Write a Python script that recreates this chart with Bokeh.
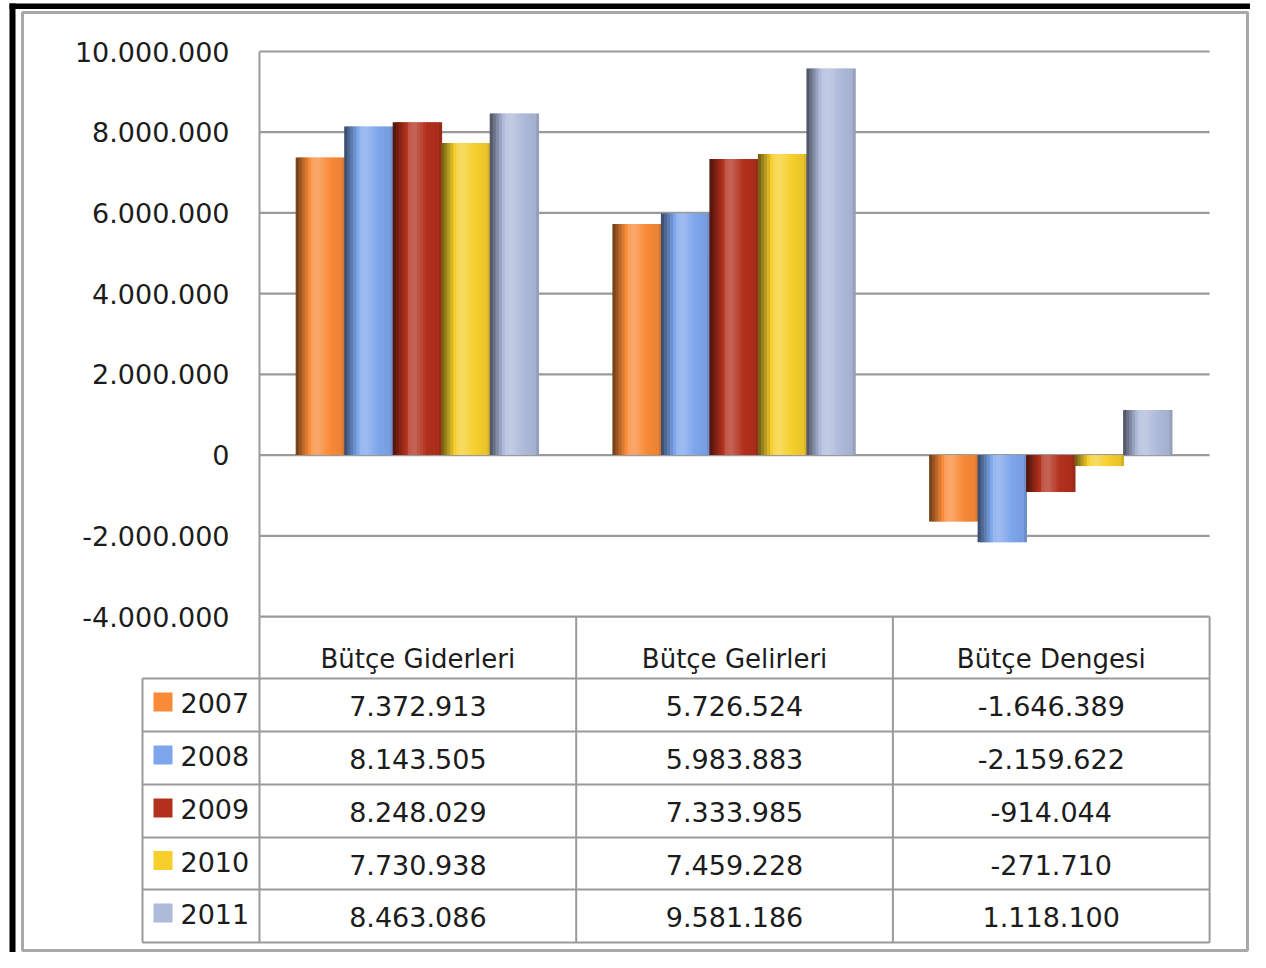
from bokeh.plotting import figure
from bokeh.models import Range1d, FixedTicker
from bokeh.core.properties import value
from bokeh.embed import file_html
from bokeh.resources import INLINE

# ---------------- data ----------------
categories = ["Bütçe Giderleri", "Bütçe Gelirleri", "Bütçe Dengesi"]
years = ["2007", "2008", "2009", "2010", "2011"]
v2007 = [7372913, 5726524, -1646389]
v2008 = [8143505, 5983883, -2159622]
v2009 = [8248029, 7333985, -914044]
v2010 = [7730938, 7459228, -271710]
v2011 = [8463086, 9581186, 1118100]
y_ticks = [-4000000, -2000000, 0, 2000000, 4000000, 6000000, 8000000, 10000000]
y_tick_labels = ["-4.000.000", "-2.000.000", "0", "2.000.000", "4.000.000",
                 "6.000.000", "8.000.000", "10.000.000"]

series = [v2007, v2008, v2009, v2010, v2011]
colors = ["#F98A38", "#7EA6EC", "#B3301C", "#F6CF2C", "#AEBADA"]

# ---------------- layout constants (screen px) ----------------
W, H = 1250, 952
FX, FY = 0, 0
X0, CW = 259.0, 316.7          # px of first category start, px per category
Y0, PPU = 454.6, 40.36e-6      # px of zero, px per unit


def xd(px):
    return (px - X0) / CW


def yd(py):
    return (Y0 - py) / PPU


def hex2rgb(h):
    h = h.lstrip("#")
    return [int(h[i:i + 2], 16) for i in (0, 2, 4)]


def shade(h, f):
    r = hex2rgb(h)
    if f <= 1:
        out = [int(c * f) for c in r]
    else:
        out = [int(c + (255 - c) * min(1.0, (f - 1) * 2.2)) for c in r]
    return "#%02x%02x%02x" % tuple(max(0, min(255, c)) for c in out)


def profile(t):
    pts = [(0.0, 0.42), (0.12, 0.68), (0.32, 1.08), (0.45, 1.12), (0.7, 1.0), (0.93, 0.95), (1.0, 0.8)]
    for (a, fa), (b, fb) in zip(pts[:-1], pts[1:]):
        if a <= t <= b:
            return fa + (fb - fa) * (t - a) / (b - a)
    return 1.0


p = figure(width=W, height=H,
           x_range=Range1d(xd(FX), xd(FX + W)),
           y_range=Range1d(yd(FY + H), yd(FY)),
           x_axis_location=None, y_axis_location="left",
           toolbar_location=None, output_backend="svg",
           min_border=0, outline_line_color=None,
           background_fill_color="white", border_fill_color="white")
p.grid.visible = False

FONT = "DejaVu Sans"
TXT = "#1c1c1c"
LINE = "#9a9a9a"

# black edges of the scanned frame
p.quad(left=xd(9), right=xd(15), bottom=yd(FY + H), top=yd(3), fill_color="black", line_color=None)
p.quad(left=xd(9), right=xd(FX + W), bottom=yd(8.5), top=yd(3), fill_color="black", line_color=None)
# outer gray chart border
p.quad(left=xd(22), right=xd(1247), bottom=yd(950), top=yd(12),
       fill_color=None, line_color="#a8a8a8", line_width=3)

# y axis placed at the plot-area left edge
ax = p.yaxis[0]
ax.fixed_location = 0
ax.bounds = (y_ticks[0], y_ticks[-1])
ax.ticker = FixedTicker(ticks=y_ticks)
ax.major_label_overrides = {t: l for t, l in zip(y_ticks, y_tick_labels)}
ax.axis_line_color = LINE
ax.axis_line_width = 2
ax.major_tick_line_color = None
ax.minor_tick_line_color = None
ax.major_tick_in = 0
ax.major_tick_out = 0
ax.major_label_standoff = 30
ax.major_label_text_font = FONT
ax.major_label_text_font_size = "27px"
ax.major_label_text_color = TXT

# horizontal gridlines
n_cat = len(categories)
p.segment(x0=[0] * len(y_ticks), x1=[n_cat * 1.0] * len(y_ticks), y0=y_ticks, y1=y_ticks,
          line_color=LINE, line_width=2.2)

# bars with cylindrical shading
BW = 48.5 / CW
S = 16
for j, vals in enumerate(series):
    for k in range(S):
        t = (k + 0.5) / S
        xs = [i + 0.5 + (j - 2) * BW - BW / 2 + t * BW for i in range(n_cat)]
        p.vbar(x=xs, width=BW / S * (1.6 if k < S - 1 else 1.0), top=vals, bottom=0,
               fill_color=shade(colors[j], profile(t)), line_color=None)

# ---------------- data table ----------------
row_edges = [678, 731, 784, 837, 889, 942]
row_mid = [(a + b) / 2 + 1 for a, b in zip(row_edges[:-1], row_edges[1:])]
p.segment(x0=[xd(142)] * len(row_edges), x1=[n_cat * 1.0] * len(row_edges),
          y0=[yd(r) for r in row_edges], y1=[yd(r) for r in row_edges],
          line_color=LINE, line_width=2)
cols = list(range(n_cat + 1))
p.segment(x0=cols, x1=cols, y0=[y_ticks[0]] * len(cols), y1=[yd(942)] * len(cols),
          line_color=LINE, line_width=2)
p.segment(x0=[xd(142)], x1=[xd(142)], y0=[yd(678)], y1=[yd(942)], line_color=LINE, line_width=2)

p.text(x=[i + 0.5 for i in range(n_cat)], y=[yd(658)] * n_cat, text=categories,
       text_align="center", text_baseline="middle", text_font=value(FONT),
       text_font_size="26px", text_color=TXT)


def fmt(v):
    return f"{v:,}".replace(",", ".")


for j, vals in enumerate(series):
    p.text(x=[i + 0.5 for i in range(n_cat)], y=[yd(row_mid[j])] * n_cat,
           text=[fmt(v) for v in vals], text_align="center", text_baseline="middle",
           text_font=value(FONT), text_font_size="27px", text_color=TXT)

p.scatter(x=[xd(162.5)] * len(years), y=[yd(r - 4) for r in row_mid], marker="square",
          size=19, fill_color=colors, line_color=None)
p.text(x=[xd(180)] * len(years), y=[yd(r - 3) for r in row_mid], text=years,
       text_align="left", text_baseline="middle", text_font=value(FONT),
       text_font_size="27px", text_color=TXT)

open("out.html", "w").write(file_html(p, INLINE))
